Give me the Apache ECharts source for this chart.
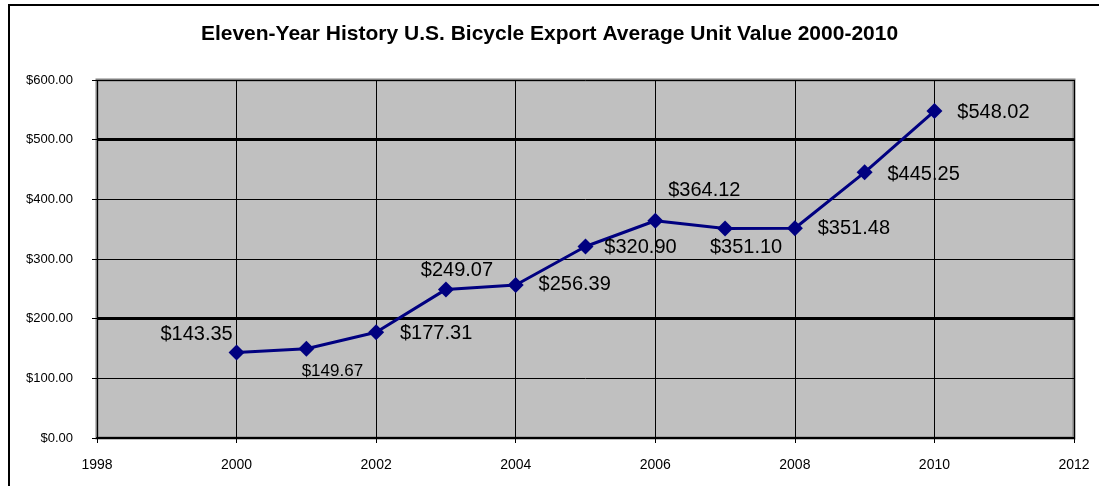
<!DOCTYPE html>
<html>
<head>
<meta charset="utf-8">
<script src="https://cdn.jsdelivr.net/npm/echarts@6/dist/echarts.min.js"></script>
<style>
  html, body { margin: 0; padding: 0; background: #fff; }
  #main { width: 1099px; height: 486px; }
</style>
</head>
<body>
<div id="main"></div>
<script>
// data
const years = [2000, 2001, 2002, 2003, 2004, 2005, 2006, 2007, 2008, 2009, 2010];
const unitValues = [143.35, 149.67, 177.31, 249.07, 256.39, 320.90, 364.12, 351.10, 351.48, 445.25, 548.02];
const labelOffsets = [[-40, -18], [26, 23], [60, 1], [11, -19], [59, -1], [55, 1], [49, -30], [21, 19], [59, 0], [59, 2], [59, 1]];
const labelSizes = [20, 17, 20, 20, 20, 20, 20, 20, 20, 20, 20];
const thickGridValues = [200, 500];

const chart = echarts.init(document.getElementById('main'), null, { renderer: 'canvas' });

const points = years.map(function (y, i) {
  return {
    value: [y, unitValues[i]],
    label: {
      offset: labelOffsets[i],
      fontSize: labelSizes[i]
    }
  };
});

const option = {
  backgroundColor: '#fff',
  animation: false,
  title: {
    text: 'Eleven-Year History U.S. Bicycle Export Average Unit Value 2000-2010',
    left: 'center',
    top: 19,
    textStyle: {
      fontFamily: 'Liberation Sans',
      fontWeight: 'bold',
      fontSize: 21,
      color: '#000'
    }
  },
  graphic: [{
    type: 'rect',
    shape: { x: 9, y: 5, width: 1200, height: 600 },
    style: { fill: 'none', stroke: '#000', lineWidth: 2 },
    silent: true
  }],
  grid: {
    left: 97,
    right: 25,
    top: 80,
    bottom: 48,
    show: true,
    backgroundColor: '#C0C0C0',
    borderColor: '#808080',
    borderWidth: 3
  },
  xAxis: {
    type: 'value',
    min: 1998,
    max: 2012,
    interval: 2,
    axisLine: { show: true, onZero: false, lineStyle: { color: '#000', width: 2 } },
    axisTick: { show: true, length: 5, lineStyle: { color: '#000' } },
    axisLabel: {
      margin: 20,
      fontFamily: 'Liberation Sans',
      fontSize: 14,
      color: '#000',
      formatter: function (v) { return String(v); }
    },
    splitLine: { show: true, lineStyle: { color: '#000', width: 1 } }
  },
  yAxis: {
    type: 'value',
    min: 0,
    max: 600,
    interval: 100,
    axisLine: { show: false },
    axisTick: { show: true, length: 5, lineStyle: { color: '#000' } },
    axisLabel: {
      margin: 24,
      fontFamily: 'Liberation Sans',
      fontSize: 13,
      color: '#000',
      formatter: function (v) { return '$' + v.toFixed(2); }
    },
    splitLine: { show: true, lineStyle: { color: '#000', width: 1 } }
  },
  series: [{
    type: 'line',
    data: points,
    symbol: 'diamond',
    symbolSize: 16,
    lineStyle: { color: '#000080', width: 3 },
    itemStyle: { color: '#000080' },
    label: {
      show: true,
      position: 'inside',
      fontFamily: 'Liberation Sans',
      color: '#000',
      formatter: function (p) { return '$' + p.value[1].toFixed(2); }
    },
    markLine: {
      silent: true,
      symbol: 'none',
      label: { show: false },
      lineStyle: { color: '#000', width: 3, type: 'solid' },
      data: thickGridValues.map(function (v) { return { yAxis: v }; })
    },
    z: 5
  }]
};

chart.setOption(option);
</script>
</body>
</html>
